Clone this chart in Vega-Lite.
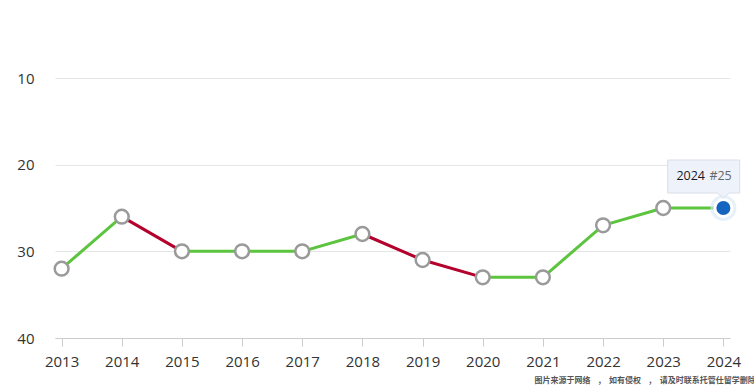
{
  "$schema": "https://vega.github.io/schema/vega-lite/v6.json",
  "autosize": {"type": "none"},
  "width": 675,
  "height": 260,
  "padding": {"left": 55, "top": 78, "right": 24, "bottom": 52},
  "background": "white",
  "config": {"view": {"stroke": null}, "font": "Open Sans"},
  "datasets": {
    "ranks": [
      {"year": "2013", "rank": 32, "current": false},
      {"year": "2014", "rank": 26, "current": false},
      {"year": "2015", "rank": 30, "current": false},
      {"year": "2016", "rank": 30, "current": false},
      {"year": "2017", "rank": 30, "current": false},
      {"year": "2018", "rank": 28, "current": false},
      {"year": "2019", "rank": 31, "current": false},
      {"year": "2020", "rank": 33, "current": false},
      {"year": "2021", "rank": 33, "current": false},
      {"year": "2022", "rank": 27, "current": false},
      {"year": "2023", "rank": 25, "current": false},
      {"year": "2024", "rank": 25, "current": true, "tip": "#25"}
    ],
    "segments": [
      {"from": "2013", "to": "2014", "r1": 32, "r2": 26, "trend": "up"},
      {"from": "2014", "to": "2015", "r1": 26, "r2": 30, "trend": "down"},
      {"from": "2015", "to": "2016", "r1": 30, "r2": 30, "trend": "up"},
      {"from": "2016", "to": "2017", "r1": 30, "r2": 30, "trend": "up"},
      {"from": "2017", "to": "2018", "r1": 30, "r2": 28, "trend": "up"},
      {"from": "2018", "to": "2019", "r1": 28, "r2": 31, "trend": "down"},
      {"from": "2019", "to": "2020", "r1": 31, "r2": 33, "trend": "down"},
      {"from": "2020", "to": "2021", "r1": 33, "r2": 33, "trend": "up"},
      {"from": "2021", "to": "2022", "r1": 33, "r2": 27, "trend": "up"},
      {"from": "2022", "to": "2023", "r1": 27, "r2": 25, "trend": "up"},
      {"from": "2023", "to": "2024", "r1": 25, "r2": 25, "trend": "up"}
    ]
  },
  "layer": [
    {
      "data": {"name": "segments"},
      "mark": {"type": "rule", "strokeWidth": 3, "strokeCap": "round"},
      "encoding": {
        "x": {
          "field": "from", "type": "ordinal",
          "scale": {"type": "point", "padding": 0.11, "domain": ["2013","2014","2015","2016","2017","2018","2019","2020","2021","2022","2023","2024"]},
          "axis": {
            "title": "图片来源于网络　,　如有侵权　,　请及时联系托管仕留学删除",
            "titleFont": "Noto Sans CJK SC",
            "titleFontSize": 8,
            "titleFontWeight": "bold",
            "titleColor": "#555555",
            "titleAlign": "left",
            "titleAnchor": "start",
            "titleBaseline": "middle",
            "titleX": 479,
            "titleY": 42,
            "labelAngle": 0,
            "labelFontSize": 15,
            "labelColor": "#333333",
            "labelPadding": 8,
            "tickSize": 8,
            "tickColor": "#cccccc",
            "domainColor": "#cccccc",
            "grid": false
          }
        },
        "x2": {"field": "to"},
        "y": {
          "field": "r1", "type": "quantitative",
          "scale": {"domain": [10, 40], "reverse": true, "nice": false, "zero": false},
          "axis": {
            "title": null,
            "values": [10, 20, 30, 40],
            "ticks": false,
            "domain": false,
            "labelFontSize": 15,
            "labelColor": "#333333",
            "labelPadding": 21,
            "gridColor": "#e5e5e5",
            "gridWidth": 1
          }
        },
        "y2": {"field": "r2"},
        "color": {
          "field": "trend", "type": "nominal",
          "scale": {"domain": ["up", "down"], "range": ["#5cc43e", "#b3002c"]},
          "legend": null
        }
      }
    },
    {
      "data": {"name": "ranks"},
      "transform": [{"filter": "!datum.current"}],
      "mark": {"type": "point", "filled": true, "fill": "white", "stroke": "#9a9a9a", "strokeWidth": 2.5, "size": 190, "opacity": 1},
      "encoding": {
        "x": {"field": "year", "type": "ordinal"},
        "y": {"field": "rank", "type": "quantitative"}
      }
    },
    {
      "data": {"name": "ranks"},
      "transform": [{"filter": "datum.current"}],
      "mark": {"type": "point", "filled": true, "fill": "#d6e8f7", "strokeWidth": 0, "size": 680, "opacity": 0.6},
      "encoding": {
        "x": {"field": "year", "type": "ordinal"},
        "y": {"field": "rank", "type": "quantitative"}
      }
    },
    {
      "data": {"name": "ranks"},
      "transform": [{"filter": "datum.current"}],
      "mark": {"type": "point", "filled": true, "fill": "#1565c0", "stroke": "white", "strokeWidth": 3, "size": 290, "opacity": 1},
      "encoding": {
        "x": {"field": "year", "type": "ordinal"},
        "y": {"field": "rank", "type": "quantitative"}
      }
    },
    {
      "data": {"name": "ranks"},
      "transform": [{"filter": "datum.current"}],
      "mark": {
        "type": "point", "filled": true, "fill": "#eef2fa", "stroke": "#d9dee8", "strokeWidth": 1, "size": 5184, "opacity": 1,
        "shape": "M-1.547,-1.333L0.453,-1.333L0.453,-0.417L0.167,-0.417L0,-0.278L-0.167,-0.417L-1.547,-0.417Z"
      },
      "encoding": {
        "x": {"field": "year", "type": "ordinal"},
        "y": {"field": "rank", "type": "quantitative"}
      }
    },
    {
      "data": {"name": "ranks"},
      "transform": [{"filter": "datum.current"}],
      "mark": {"type": "text", "align": "left", "baseline": "middle", "dx": -47, "dy": -32, "fontSize": 12.5, "fontWeight": "normal", "color": "#1a1a1a"},
      "encoding": {
        "x": {"field": "year", "type": "ordinal"},
        "y": {"field": "rank", "type": "quantitative"},
        "text": {"field": "year"}
      }
    },
    {
      "data": {"name": "ranks"},
      "transform": [{"filter": "datum.current"}],
      "mark": {"type": "text", "align": "left", "baseline": "middle", "dx": -14, "dy": -32, "fontSize": 12.5, "color": "#666666"},
      "encoding": {
        "x": {"field": "year", "type": "ordinal"},
        "y": {"field": "rank", "type": "quantitative"},
        "text": {"field": "tip"}
      }
    }
  ]
}
